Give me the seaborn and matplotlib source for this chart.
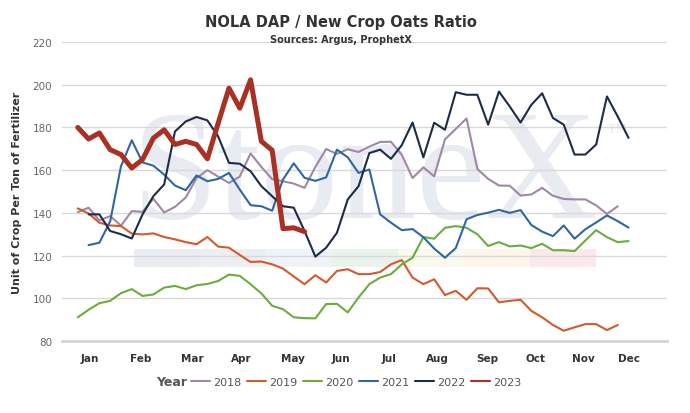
import pandas as pd
import matplotlib
matplotlib.use("Agg")
import matplotlib.pyplot as plt
import seaborn as sns
from matplotlib.lines import Line2D

# weekly ratio values (week number on x)
years = ["2018", "2019", "2020", "2021", "2022", "2023"]
first_week = {"2018": 1, "2019": 1, "2020": 1, "2021": 2, "2022": 2, "2023": 1}

r2018 = [140.3, 142.4, 136.5, 138.5, 134.0, 140.8, 140.5, 146.6, 140.2, 142.8,
         147.2, 156.3, 160.0, 157.0, 154.0, 157.0, 167.8, 161.5, 155.8, 154.8,
         153.7, 151.7, 161.5, 169.9, 167.6, 169.8, 168.5, 171.0, 173.2, 173.3,
         167.2, 156.3, 161.3, 157.1, 174.4, 179.3, 184.2, 160.5, 155.9, 152.8,
         152.7, 148.1, 148.6, 151.7, 148.0, 146.5, 146.3, 146.3, 143.5, 139.5,
         143.1]
r2019 = [142.1, 139.7, 135.4, 134.1, 133.8, 130.3, 129.9, 130.4, 128.7, 127.6,
         126.3, 125.3, 128.7, 124.2, 123.7, 120.3, 117.0, 117.2, 115.9, 113.9,
         110.2, 106.6, 110.8, 107.4, 112.8, 113.6, 111.3, 111.3, 112.3, 115.9,
         117.9, 109.7, 106.6, 108.9, 101.5, 103.5, 99.3, 104.7, 104.6, 98.1,
         98.8, 99.3, 94.1, 91.1, 87.5, 84.8, 86.4, 87.9, 87.9, 85.1,
         87.5]
r2020 = [91.1, 94.6, 97.7, 98.8, 102.4, 104.3, 101.1, 101.8, 105.0, 105.8,
         104.3, 106.1, 106.7, 108.1, 111.1, 110.5, 106.6, 102.3, 96.5, 94.9,
         91.1, 90.7, 90.6, 97.3, 97.4, 93.4, 100.4, 106.6, 109.7, 111.3,
         115.9, 119.0, 128.7, 127.9, 133.0, 133.8, 133.0, 130.0, 124.5, 126.3,
         124.3, 124.7, 123.5, 125.5, 122.5, 122.5, 122.1, 127.1, 131.9, 128.6,
         126.3, 126.8]
r2021 = [124.9, 126.0, 136.0, 161.8, 174.0, 163.6, 162.1, 157.9, 152.8, 150.6,
         157.5, 154.8, 155.9, 158.7, 150.9, 143.6, 143.1, 141.0, 155.6, 163.2,
         156.4, 155.0, 156.6, 169.6, 166.0, 158.7, 160.3, 139.3, 135.4, 131.9,
         132.4, 128.6, 123.3, 119.0, 123.5, 137.0, 139.0, 140.1, 141.4, 140.0,
         141.3, 134.3, 131.2, 129.1, 134.1, 127.9, 132.3, 135.5, 138.8, 136.1,
         133.1]
r2022 = [139.3, 139.3, 131.5, 130.0, 128.0, 139.3, 147.8, 153.3, 178.1, 182.8,
         184.9, 183.3, 175.8, 163.4, 163.0, 159.5, 152.5, 147.8, 143.1, 142.4,
         131.5, 119.5, 123.7, 130.7, 146.3, 152.5, 168.0, 169.6, 165.3, 171.7,
         182.3, 166.0, 182.2, 178.9, 196.5, 195.3, 195.3, 181.3, 196.8, 189.8,
         182.3, 190.6, 196.0, 184.4, 181.3, 167.3, 167.3, 172.0, 194.5, 185.1,
         175.1]
r2023 = [180.0, 174.6, 177.4, 169.6, 167.3, 161.0, 165.0, 175.0, 178.9, 172.0,
         173.5, 172.0, 165.3, 182.0, 198.4, 189.0, 202.3, 173.5, 169.3, 132.6,
         133.0, 131.2]

series = {"2018": r2018, "2019": r2019, "2020": r2020,
          "2021": r2021, "2022": r2022, "2023": r2023}

month_labels = ["Jan", "Feb", "Mar", "Apr", "May", "Jun",
                "Jul", "Aug", "Sep", "Oct", "Nov", "Dec"]
month_pos = [2.1, 6.85, 11.6, 16.1, 20.9, 25.4, 29.8, 34.3, 38.9, 43.4, 47.8, 52.0]

colors = {"2018": "#9f88a6", "2019": "#d4592b", "2020": "#6aad3d",
          "2021": "#2f66a3", "2022": "#1c2c47", "2023": "#a83124"}
widths = {"2018": 1.5, "2019": 1.5, "2020": 1.5, "2021": 1.5, "2022": 1.5, "2023": 3.6}

rows = []
for yr in years:
    for i, v in enumerate(series[yr]):
        rows.append({"week": first_week[yr] + i, "ratio": v, "Year": yr})
df = pd.DataFrame(rows)

sns.set_style("white")
plt.rcParams["font.family"] = ["DejaVu Sans"]

fig = plt.figure(figsize=(6.9, 4.14), dpi=100)
ax = fig.add_axes([62 / 690, 1 - 342 / 414, 605 / 690, 299 / 414])

# faded watermark behind the data
band_cols = ["#e9ecf1", "#ebeef3", "#eff3f8", "#eaf2ec", "#f9f9ee", "#fdf5e8", "#fae8eb"]
for k, c in enumerate(band_cols):
    x0 = (134 - 62 + 66 * k) / 605
    ax.axhspan(114.5, 122.9, xmin=x0, xmax=x0 + 66 / 605, color=c, lw=0, zorder=0)
ax.text(0.500, 0.415, "StoneX", transform=ax.transAxes, ha="center", va="baseline",
        fontsize=112, family="Liberation Serif", color="#e8ebf1", zorder=0)
ax.text(0.918, 0.71, "TM", transform=ax.transAxes, ha="center", va="center",
        fontsize=9, color="#e8ebf1", zorder=0)

sns.lineplot(data=df, x="week", y="ratio", hue="Year", size="Year",
             palette=colors, sizes=widths, hue_order=years, size_order=years,
             estimator=None, legend=False, ax=ax, zorder=3)

ax.set_xlim(-0.46, 55.56)
ax.set_ylim(80, 220)
ax.set_yticks(range(80, 221, 20))
ax.set_xticks(month_pos)
ax.set_xticklabels(month_labels)
ax.yaxis.grid(True, color="#d9d9d9", lw=1)
ax.xaxis.grid(False)
for s in ["top", "right", "left"]:
    ax.spines[s].set_visible(False)
ax.spines["bottom"].set_color("#d4d4d4")
ax.spines["bottom"].set_linewidth(2)
ax.tick_params(axis="y", length=0, pad=7, labelsize=7.5, labelcolor="#666666")
ax.tick_params(axis="x", length=0, pad=9, labelsize=7.5, labelcolor="#333333")
for lab in ax.get_xticklabels():
    lab.set_fontweight("bold")

ax.set_xlabel("")
ax.set_ylabel("Unit of Crop Per Ton of Fertilizer", fontsize=8, fontweight="bold",
              color="#333333")
ax.yaxis.set_label_coords(-0.066, 0.5)

fig.text(341 / 690, 1 - 22 / 414, "NOLA DAP / New Crop Oats Ratio", ha="center",
         va="center", fontsize=10.5, fontweight="bold", color="#333333")
fig.text(341 / 690, 1 - 40 / 414, "Sources: Argus, ProphetX", ha="center",
         va="center", fontsize=7, fontweight="bold", color="#333333")

handles = [Line2D([0], [0], color=colors[y], lw=1.5) for y in years]
fig.text(172 / 690, 1 - 383 / 414, "Year", ha="center", va="center",
         fontsize=9, fontweight="bold", color="#555555")
fig.legend(handles, years, loc="center", bbox_to_anchor=(356 / 690, 1 - 383 / 414),
           ncol=6, frameon=False, fontsize=8, labelcolor="#555555",
           handlelength=1.7, handletextpad=0.3, columnspacing=0.5)

fig.savefig("out.png", dpi=100)
